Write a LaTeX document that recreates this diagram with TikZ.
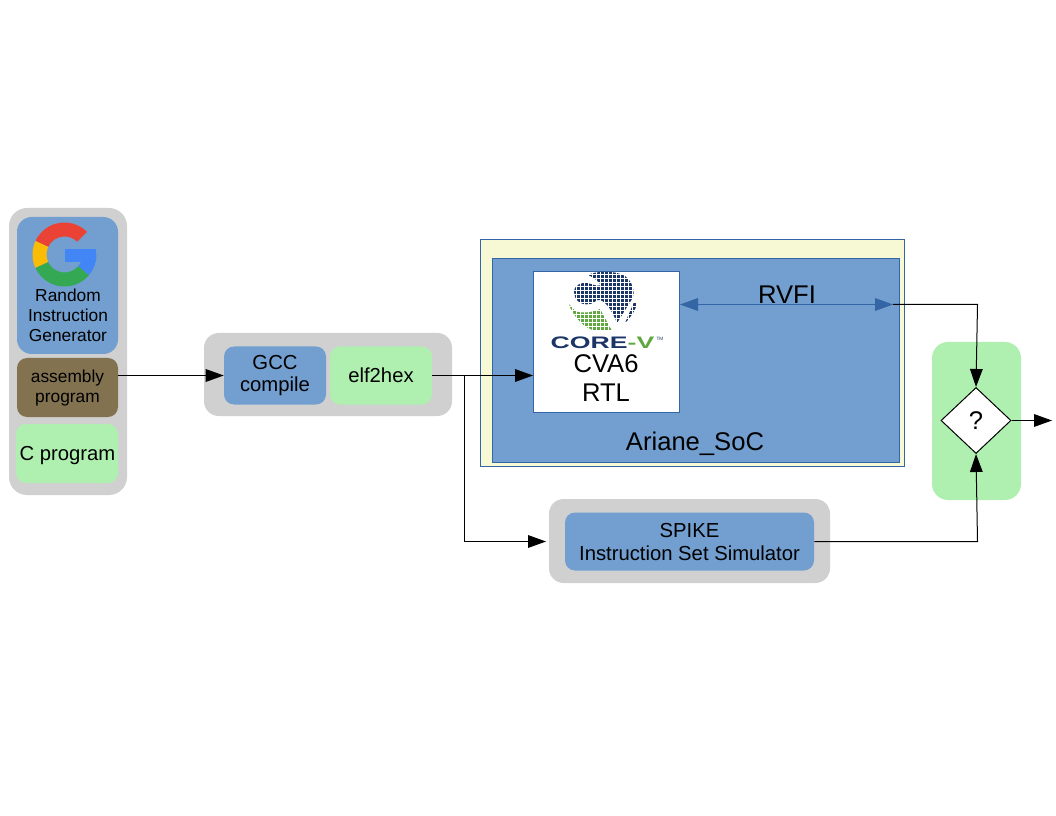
\documentclass[tikz,border=0pt]{standalone}
\usepackage{fontspec}
\setmainfont{Liberation Sans}
\usetikzlibrary{arrows.meta,shapes.geometric}
\definecolor{boxgray}{HTML}{D0D0D0}
\definecolor{boxblue}{HTML}{729FCF}
\definecolor{boxline}{HTML}{3465A4}
\definecolor{boxgreen}{HTML}{AFF0B0}
\definecolor{boxbrown}{HTML}{827250}
\definecolor{boxyellow}{HTML}{F6F9D4}
\definecolor{corenavy}{HTML}{1A3566}
\definecolor{coregreen}{HTML}{5FA83F}
\definecolor{gred}{HTML}{EA4335}
\definecolor{gyellow}{HTML}{FBBC05}
\definecolor{ggreen}{HTML}{34A853}
\definecolor{gblue}{HTML}{4285F4}
\newcommand{\gseg}[3]{\fill[#1] (#2:24pt) arc[start angle=#2,end angle=#3,radius=24pt] -- (#3:13.5pt) arc[start angle=#3,end angle=#2,radius=13.5pt] -- cycle;}
\tikzset{
	panel/.style={inner sep=0pt,align=center},
	bigtip/.style={line width=0.75pt,-{Triangle[length=13.5pt,width=9.5pt]}},
	txtsmall/.style={font=\fontsize{13}{15}\selectfont},
	txtmid/.style={font=\fontsize{15.2}{17.2}\selectfont},
	txtbig/.style={font=\fontsize{19.2}{21.5}\selectfont}
}
\begin{document}
\begin{tikzpicture}[x=0.75pt,y=-0.75pt]
	\useasboundingbox (0,0) rectangle (1056,816);

	\node[panel,fill=boxgray,rounded corners=13.5pt,minimum width=88.5pt,minimum height=215.25pt] (rigpanel) at (68,351.5) {};
	\node[panel,fill=boxblue,rounded corners=11pt,minimum width=75.75pt,minimum height=102.75pt] (rigbox) at (67.5,285.5) {};
	\node[panel,fill=boxbrown,rounded corners=7.5pt,minimum width=75.75pt,minimum height=44.25pt] (asmbox) at (67.5,387.5) {};
	\node[panel,txtsmall] (asmlabel) at (67.5,388) {assembly\\program};
	\node[panel,fill=boxgreen,rounded corners=7.5pt,minimum width=76.5pt,minimum height=44.25pt] (cprog) at (67,453.5) {};
	\node[panel,txtmid] (cproglabel) at (67.5,456) {C program};
	\node[panel,txtsmall] (riglabel) at (68,315) {Random\\Instruction\\Generator};

	\begin{scope}[shift={(64.5,254.5)}]
		\gseg{gred}{45}{155}
		\gseg{gyellow}{155}{205}
		\gseg{ggreen}{205}{320}
		\gseg{gblue}{320}{360}
		\fill[gblue] (0,-5.5) rectangle (31.5,7.5);
	\end{scope}

	\node[panel,fill=boxgray,rounded corners=11pt,minimum width=186pt,minimum height=62.25pt] (gccpanel) at (328,374.5) {};
	\node[panel,fill=boxblue,rounded corners=7.5pt,minimum width=76.5pt,minimum height=43.5pt,txtmid] (gccbox) at (275,375.5) {GCC\\compile};
	\node[panel,fill=boxgreen,rounded corners=7.5pt,minimum width=76.5pt,minimum height=43.5pt,txtmid] (elfbox) at (381,375.5) {elf2hex};

	\node[panel,draw=boxline,line width=0.75pt,fill=boxyellow,minimum width=318pt,minimum height=170.25pt] (socouter) at (692.5,353) {};
	\node[panel,draw=boxline,line width=0.75pt,fill=boxblue,minimum width=305.25pt,minimum height=153pt] (socbox) at (696,360.5) {};
	\node[panel,draw=boxline,line width=0.75pt,fill=white,minimum width=109.5pt,minimum height=105.75pt] (cvabox) at (606.5,342) {};
	\node[panel,txtbig] (cvalabel) at (606,378) {CVA6\\RTL};
	\node[panel,txtbig] (soclabel) at (695,444) {Ariane\_SoC};
	\node[panel,txtbig] (rvfilabel) at (787,295) {RVFI};

	\fill[corenavy] (588,275) .. controls (595,271) and (615,270) .. (625,276) .. controls (632,281) and (636,292) .. (632,299) -- (617,323) .. controls (613,313) and (607,302) .. (600,300) .. controls (596,299) and (594,304) .. (590,304) .. controls (580,306) and (574,299) .. (574,292) .. controls (574,285) and (582,282) .. (587,283) .. controls (593,284) and (597,287) .. (601,285) .. controls (598,281) and (593,277) .. (588,275) -- cycle;
	\fill[corenavy] (637,303) .. controls (636,310) and (630,318) .. (625,323) .. controls (628,316) and (631,309) .. (634,302) -- cycle;
	\fill[coregreen] (569,304) .. controls (572,315) and (585,330) .. (597,331) -- (612,331) -- (600,309) .. controls (594,312) and (582,314) .. (575,311) -- cycle;
	\foreach \gx in {568,572,...,640} {
		\draw[white,line width=0.35pt] (\gx,272) -- (\gx,332);
	}
	\foreach \gy in {274,278,...,330} {
		\draw[white,line width=0.35pt] (566,\gy) -- (642,\gy);
	}
	\node[panel,transform shape,xscale=1.6,text=corenavy,font=\fontsize{12.5}{14}\selectfont\bfseries] (corelogo) at (602.5,343) {CORE\textcolor{coregreen}{-V}};
	\node[panel,text=corenavy,font=\fontsize{3.5}{4}\selectfont] (coretm) at (660,339) {TM};

	\node[panel,fill=boxgray,rounded corners=11pt,minimum width=210.75pt,minimum height=63pt] (spikepanel) at (689.5,541) {};
	\node[panel,fill=boxblue,rounded corners=7.5pt,minimum width=186.75pt,minimum height=43.5pt] (spikebox) at (689.5,541.5) {};
	\node[panel,txtmid] (spikelabel) at (689.5,542) {SPIKE\\Instruction Set Simulator};

	\node[panel,fill=boxgreen,rounded corners=12pt,minimum width=66.75pt,minimum height=118.5pt] (cmppanel) at (976.5,421) {};
	\node[panel,diamond,draw,line width=0.75pt,fill=white,aspect=1.06,minimum width=52.5pt,minimum height=49.5pt,txtbig] (cmpbox) at (976,420.5) {?};

	\coordinate (rvfiend) at (893,304.5);
	\coordinate (rvficorner) at (977.5,304.5);
	\coordinate (forkpt) at (464.5,375.5);
	\coordinate (forkcorner) at (464.5,541.5);
	\coordinate (spikein) at (546,541.5);
	\coordinate (spikecorner) at (977.5,541.5);
	\coordinate (resultend) at (1052,420.5);

	\draw[bigtip] (asmbox.east |- gccbox.west) -- (gccbox.west);
	\draw[bigtip] (elfbox.east) -- (cvabox.west |- elfbox.east);
	\draw[line width=0.75pt] (forkpt) -- (forkcorner);
	\draw[bigtip] (forkcorner) -- (spikein);
	\draw[boxline,line width=0.75pt,{Triangle[length=13.5pt,width=9.5pt]}-{Triangle[length=13.5pt,width=9.5pt]}] (cvabox.east |- rvfiend) -- (rvfiend);
	\draw[bigtip] (rvfiend) -- (rvficorner) -- (cmpbox.north);
	\draw[bigtip] (spikebox.east) -- (spikecorner) -- (cmpbox.south);
	\draw[bigtip] (cmpbox.east) -- (resultend);
\end{tikzpicture}
\end{document}
